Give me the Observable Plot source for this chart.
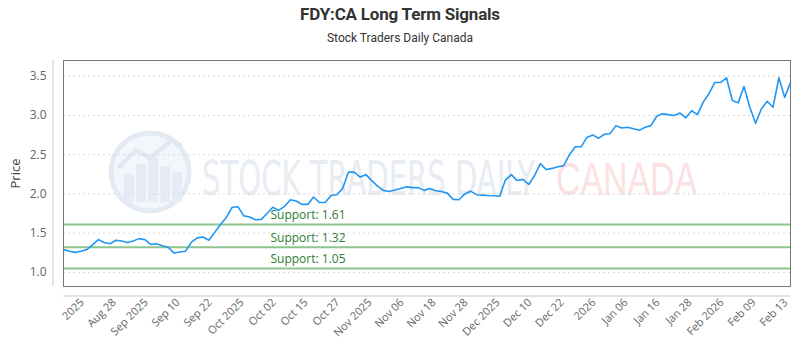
<!DOCTYPE html>
<html>
<head>
<meta charset="utf-8">
<script src="https://cdn.jsdelivr.net/npm/d3@7"></script>
<script src="https://cdn.jsdelivr.net/npm/@observablehq/plot@0.6"></script>
<style>
  html, body { margin: 0; padding: 0; background: #fff; }
  #wrap { width: 800px; }
  #head { height: 50px; position: relative; font-family: Roboto, "Open Sans", sans-serif; color: #333; }
  #title { position: absolute; top: 4px; left: 0; width: 800px; text-align: center; font-size: 17px; font-weight: bold; letter-spacing: -0.2px; }
  #sub { position: absolute; top: 31px; left: 0; width: 800px; text-align: center; font-size: 12px; }
</style>
</head>
<body>
<div id="wrap">
  <div id="head"><div id="title">FDY:CA Long Term Signals</div><div id="sub">Stock Traders Daily Canada</div></div>
  <div id="chart"></div>
</div>
<script>
const prices = [
  1.29,1.27,1.255,1.27,1.29,1.35,1.417,1.38,1.365,1.41,
  1.40,1.38,1.40,1.43,1.417,1.357,1.365,1.34,1.32,1.246,
  1.26,1.27,1.386,1.44,1.45,1.41,1.51,1.61,1.70,1.83,
  1.837,1.72,1.705,1.67,1.675,1.75,1.83,1.79,1.84,1.926,
  1.91,1.866,1.866,1.96,1.89,1.89,1.98,1.99,2.07,2.28,
  2.278,2.214,2.245,2.17,2.10,2.045,2.03,2.05,2.07,2.09,
  2.08,2.08,2.045,2.07,2.04,2.03,2.01,1.93,1.926,2.00,
  2.035,1.99,1.985,1.98,1.977,1.97,2.18,2.245,2.17,2.185,
  2.12,2.235,2.385,2.31,2.325,2.345,2.36,2.50,2.60,2.60,
  2.72,2.75,2.71,2.76,2.77,2.87,2.84,2.85,2.83,2.81,
  2.85,2.87,2.99,3.02,3.01,3.00,3.03,2.97,3.06,3.01,
  3.17,3.28,3.42,3.42,3.48,3.19,3.16,3.37,3.105,2.90,
  3.085,3.18,3.105,3.48,3.23,3.42
];
const tickLabels = ["2025","Aug 28","Sep 2025","Sep 10","Sep 22","Oct 2025","Oct 02","Oct 15","Oct 27",
  "Nov 2025","Nov 06","Nov 18","Nov 28","Dec 2025","Dec 10","Dec 22","2026","Jan 06","Jan 16",
  "Jan 28","Feb 2026","Feb 09","Feb 13"];
const supports = [1.61, 1.32, 1.05];
const yTicks = [1.0, 1.5, 2.0, 2.5, 3.0, 3.5];

const data = prices.map((p, i) => ({i, p}));
const tickPos = tickLabels.map((_, k) => 3.2 + k * 5.5);

const chart = Plot.plot({
  width: 800, height: 300,
  marginTop: 10, marginBottom: 64, marginLeft: 63, marginRight: 10,
  style: {fontFamily: "'Open Sans', sans-serif", background: "#fff"},
  x: {domain: [0, prices.length - 1], axis: null},
  y: {domain: [0.82, 3.70], axis: null},
  marks: [
    Plot.gridY(yTicks, {stroke: "#d8d8d8", strokeOpacity: 1, strokeDasharray: "2,3"}),
    Plot.ruleY(supports, {stroke: "#8cc68c", strokeWidth: 2}),
    Plot.text(supports, {y: d => d, frameAnchor: "left", dx: 207, dy: -9, textAnchor: "start",
      text: d => `Support: ${d}`, fill: "#2e7d32", fontSize: 12}),
    Plot.line(data, {x: "i", y: "p", stroke: "#2196f3", strokeWidth: 1.6}),
    Plot.frame({stroke: "#777"}),
    Plot.axisY(yTicks, {anchor: "left", tickSize: 0, tickPadding: 17, tickFormat: d3.format(".1f"),
      fontSize: 12, color: "#666", label: "Price", labelAnchor: "center", labelArrow: "none", labelOffset: 53}),
    Plot.axisX(tickPos, {anchor: "bottom", tickSize: 0, tickPadding: 14, tickRotate: -45,
      tickFormat: d => tickLabels[tickPos.indexOf(d)], fontSize: 11, color: "#666", label: null})
  ]
});
document.getElementById("chart").appendChild(chart);

const svg = d3.select(chart);
svg.selectAll("g[aria-label='y-axis label'] text, g[aria-label='y-axis label']").attr("font-size", 13).attr("fill", "#444");
// axis lines
svg.append("line").attr("x1", 53).attr("x2", 53).attr("y1", 10).attr("y2", 236).attr("stroke", "#c8c8c8");
svg.append("line").attr("x1", 63).attr("x2", 790).attr("y1", 246).attr("y2", 246).attr("stroke", "#c8c8c8");
// watermark (decorative)
const wm = svg.insert("g", ":first-child").attr("text-anchor", "start");
wm.append("circle").attr("cx", 150).attr("cy", 122).attr("r", 39).attr("fill", "#f3f6fb").attr("stroke", "#e4eaf4").attr("stroke-width", 5);
[[124, 10, 28], [136, 10, 38], [148, 10, 46], [160, 10, 36], [172, 10, 30]].forEach(([x, w, h]) =>
  wm.append("rect").attr("x", x).attr("y", 152 - h).attr("width", w).attr("height", h).attr("fill", "#e6ecf5"));
wm.append("path").attr("d", "M118,118 L136,100 L150,108 L172,90 L182,96").attr("fill", "none").attr("stroke", "#e2e8f2").attr("stroke-width", 4);
wm.append("text").attr("x", 202).attr("y", 145).text("STOCK TRADERS DAILY")
  .attr("font-family", "'Liberation Sans Narrow', 'DejaVu Sans Condensed', sans-serif").attr("font-size", 48)
  .attr("fill", "#e8ecf3").attr("textLength", 333).attr("lengthAdjust", "spacingAndGlyphs");
wm.append("text").attr("x", 556).attr("y", 145).text("CANADA")
  .attr("font-family", "'Liberation Sans', sans-serif").attr("font-size", 46)
  .attr("fill", "#fbe1e1").attr("textLength", 141).attr("lengthAdjust", "spacingAndGlyphs");
</script>
</body>
</html>
